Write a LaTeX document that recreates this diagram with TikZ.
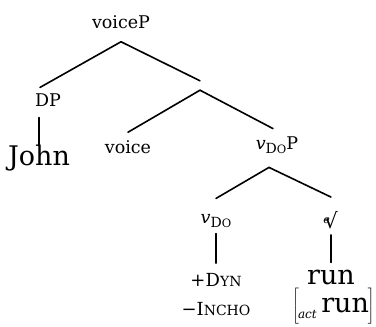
\documentclass[tikz,border=0pt]{standalone}
\usepackage{fontspec}
\setmainfont{DejaVu Serif}
\usetikzlibrary{calc,positioning}
\newcommand{\lowcaps}[1]{{\fontsize{14}{14}\selectfont #1}}
\newcommand{\vdo}{\textit{v}\raisebox{-3.5pt}{\fontsize{14}{14}\selectfont D\fontsize{11.5}{11.5}\selectfont O}}
\tikzset{
    every node/.style={inner sep=1pt},
    cat node/.style={font=\fontsize{17.5}{17.5}\selectfont,inner ysep=8pt},
    word node/.style={font=\fontsize{27}{27}\selectfont,inner ysep=3pt},
    feat node/.style={font=\fontsize{18}{18}\selectfont,inner ysep=6pt},
    branch/.style={line width=1.6pt,line cap=round}
}

\begin{document}
\begin{tikzpicture}[x=1pt,y=-1pt]
    \useasboundingbox (0,0) rectangle (376,327);

    \node[cat node] (voiceP) at (121,22) {voiceP};
    \node[cat node] (DP) at (48,100) {DP};
    \node[word node] (John) at (39,158) {John};
    \node[inner sep=0pt,minimum height=9pt] (vbar) at (200,85.5) {};
    \node[cat node] (voice) at (128,147) {voice};
    \node[cat node] (vDoP) at (277,145) {\vdo P};
    \node[cat node] (vDo) at (216,221) {\vdo};
    \node[cat node] (root) at (331,220) {\makebox[0pt][l]{\hspace{-1pt}\raisebox{5pt}{\fontsize{11}{11}\selectfont\textit{e}}}{\fontsize{21}{21}\selectfont √}};
    \node[feat node] (dyn) at (216,280) {+D\lowcaps{YN}};
    \node[feat node] (incho) at (216,309) {−I\lowcaps{NCHO}};
    \node[word node] (run) at (331,277) {run};
    \node[word node] (actrun) at (334,306) {$\left[\vbox to 24pt{}\right.$\hspace{-2pt}\raisebox{-6pt}{\fontsize{12}{12}\selectfont\textit{act}}\,run\hspace{-1pt}$\left]\vbox to 24pt{}\right.$};

    % voiceP
    \draw[branch] ($(voiceP.south)+(0,5)$) -- ($(DP.north)+(-8,2)$);
    \draw[branch] ($(voiceP.south)+(0,5)$) -- (vbar.north);
    \draw[branch] ($(DP.south -| John.north)+(0,3)$) -- ($(John.north)+(0,4)$);
    % voice-bar
    \draw[branch] (vbar.south) -- (voice.north);
    \draw[branch] (vbar.south) -- ($(vDoP.north)+(-4,0)$);
    % vDoP
    \draw[branch] ($(vDoP.south)+(-8,6)$) -- ($(vDo.north)+(0,-8)$);
    \draw[branch] ($(vDoP.south)+(-8,6)$) -- ($(root.north)+(0,-6)$);
    \draw[branch] ($(vDo.south)+(0,-2)$) -- ($(dyn.north)+(0,-4)$);
    \draw[branch] ($(root.south)+(0,-2)$) -- ($(run.north)+(0,-4)$);
\end{tikzpicture}
\end{document}
